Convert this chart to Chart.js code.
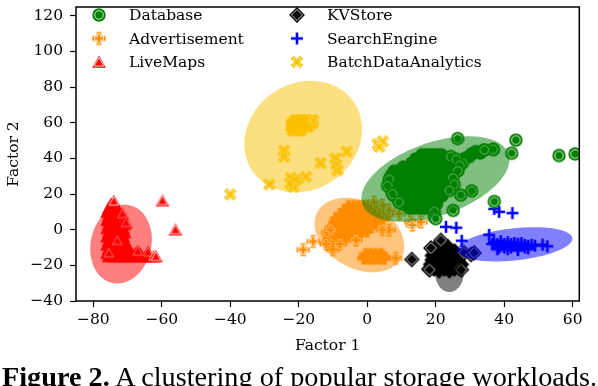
<!DOCTYPE html>
<html>
<head>
<meta charset="utf-8">
<script src="https://cdn.jsdelivr.net/npm/chart.js@4.4.1/dist/chart.umd.min.js"></script>
<style>
  html, body { margin: 0; padding: 0; background: #fff; }
  #wrap { position: relative; width: 598px; height: 386px; overflow: hidden; }
  #caption { position: absolute; left: 2px; top: 364px; font-family: 'Liberation Serif', serif; font-size: 25px; line-height: 25px; white-space: nowrap; color: #000; }
</style>
</head>
<body>
<div id="wrap">
  <canvas id="chart" width="598" height="386"></canvas>
  <div id="caption"><span id="capText"><b>Figure 2.</b> A clustering of popular storage workloads.</span></div>
</div>
<script>
// workload series, [factor1, factor2]
// "core" = heavily overplotted centre of a cluster, "edge" = points whose outline shows
const seriesNames = ['Database', 'Advertisement', 'LiveMaps', 'KVStore', 'SearchEngine', 'BatchDataAnalytics'];

const databaseCore = [
  [16, 42], [17.4, 42], [18.8, 42], [20.2, 42], [21.6, 42],
  [14.2, 39.7], [15.6, 39.7], [17, 39.7], [18.4, 39.7], [19.8, 39.7], [21.2, 39.7], [22.6, 39.7], [24, 39.7],
  [13, 37.4], [14.4, 37.4], [15.8, 37.4], [17.2, 37.4], [18.6, 37.4], [20, 37.4], [21.4, 37.4], [22.8, 37.4], [24.2, 37.4], [25.6, 37.4],
  [10.5, 35.1], [11.9, 35.1], [13.3, 35.1], [14.7, 35.1], [16.1, 35.1], [17.5, 35.1], [18.9, 35.1], [20.3, 35.1], [21.7, 35.1], [23.1, 35.1], [24.5, 35.1], [25.9, 35.1],
  [7.8, 32.8], [9.2, 32.8], [10.6, 32.8], [12, 32.8], [13.4, 32.8], [14.8, 32.8], [16.2, 32.8], [17.6, 32.8], [19, 32.8], [20.4, 32.8], [21.8, 32.8], [23.2, 32.8], [24.6, 32.8],
  [7, 30.5], [8.4, 30.5], [9.8, 30.5], [11.2, 30.5], [12.6, 30.5], [14, 30.5], [15.4, 30.5], [16.8, 30.5], [18.2, 30.5], [19.6, 30.5], [21, 30.5], [22.4, 30.5], [23.8, 30.5],
  [6.6, 28.2], [8, 28.2], [9.4, 28.2], [10.8, 28.2], [12.2, 28.2], [13.6, 28.2], [15, 28.2], [16.4, 28.2], [17.8, 28.2], [19.2, 28.2], [20.6, 28.2], [22, 28.2], [23.4, 28.2],
  [6.5, 25.9], [7.9, 25.9], [9.3, 25.9], [10.7, 25.9], [12.1, 25.9], [13.5, 25.9], [14.9, 25.9], [16.3, 25.9], [17.7, 25.9], [19.1, 25.9], [20.5, 25.9], [21.9, 25.9], [23.3, 25.9],
  [6.8, 23.6], [8.2, 23.6], [9.6, 23.6], [11, 23.6], [12.4, 23.6], [13.8, 23.6], [15.2, 23.6], [16.6, 23.6], [18, 23.6], [19.4, 23.6], [20.8, 23.6], [22.2, 23.6],
  [7.2, 21.3], [8.6, 21.3], [10, 21.3], [11.4, 21.3], [12.8, 21.3], [14.2, 21.3], [15.6, 21.3], [17, 21.3], [18.4, 21.3], [19.8, 21.3], [21.2, 21.3],
  [7.8, 19], [9.2, 19], [10.6, 19], [12, 19], [13.4, 19], [14.8, 19], [16.2, 19], [17.6, 19], [19, 19], [20.4, 19], [21.8, 19],
  [9.2, 16.7], [10.6, 16.7], [12, 16.7], [13.4, 16.7], [14.8, 16.7], [16.2, 16.7], [17.6, 16.7], [19, 16.7], [20.4, 16.7],
  [10.4, 14.4], [11.8, 14.4], [13.2, 14.4], [14.6, 14.4], [16, 14.4], [17.4, 14.4], [18.8, 14.4], [20.2, 14.4],
  [12.4, 12.1], [13.8, 12.1], [15.2, 12.1], [16.6, 12.1], [18, 12.1], [19.4, 12.1],
  [36.8, 45], [34.2, 44.7], [31.7, 43.8], [33, 43], [30.5, 42.5], [29.8, 41], [28.5, 40]
];
const databaseEdge = [
  [27.8, 37.4], [24.4, 41], [26, 39.5], [27, 36], [26.5, 33], [25, 29], [25.4, 25.4], [24, 22], [30.5, 21.8],
  [27.3, 19.4], [25.1, 10.8], [19.6, 10.3], [19.6, 7.1], [20, 6.2], [6.4, 28.2], [5.9, 24.6],
  [7.4, 20], [9.3, 15.4], [26.4, 51.1], [43.4, 50.2], [42.2, 42.9], [56, 41.6], [60.7, 42.5], [37.1, 15.8],
  [36.8, 45], [34.2, 44.7]
];

const advertisementCore = [
  [-5.5, 13], [-4, 13], [-2.5, 13], [-1, 13], [0.5, 13], [2, 13],
  [-6.5, 10.7], [-5, 10.7], [-3.5, 10.7], [-2, 10.7], [-0.5, 10.7], [1, 10.7], [2.5, 10.7], [4, 10.7],
  [-8, 8.4], [-6.5, 8.4], [-5, 8.4], [-3.5, 8.4], [-2, 8.4], [-0.5, 8.4], [1, 8.4], [2.5, 8.4], [4, 8.4], [5.5, 8.4],
  [-9, 6.1], [-7.5, 6.1], [-6, 6.1], [-4.5, 6.1], [-3, 6.1], [-1.5, 6.1], [0, 6.1], [1.5, 6.1], [3, 6.1], [4.5, 6.1],
  [-9.5, 3.8], [-8, 3.8], [-6.5, 3.8], [-5, 3.8], [-3.5, 3.8], [-2, 3.8], [-0.5, 3.8], [1, 3.8], [2.5, 3.8],
  [-10, 1.5], [-8.5, 1.5], [-7, 1.5], [-5.5, 1.5], [-4, 1.5], [-2.5, 1.5], [-1, 1.5], [0.5, 1.5],
  [-10.5, -0.8], [-9, -0.8], [-7.5, -0.8], [-6, -0.8], [-4.5, -0.8], [-3, -0.8], [-1.5, -0.8], [0, -0.8],
  [-11, -3.1], [-9.5, -3.1], [-8, -3.1], [-6.5, -3.1], [-5, -3.1], [-3.5, -3.1],
  [-11, -5.4], [-9.5, -5.4], [-8, -5.4], [-6.5, -5.4],
  [-0.5, -14], [1, -14], [2.5, -14], [4, -14], [0, -15], [1.5, -15], [3, -15], [4.5, -15],
  [-1, -16], [0.5, -16], [2, -16], [3.5, -16], [5, -16]
];
const advertisementEdge = [
  [-18.7, -11.2], [-15.8, -6.6], [-10.1, -11.2], [-11.3, -6.6], [-11.6, -1.5], [-3.3, -5.7],
  [-10.7, 0], [-12, -8], [-8, -8], [3.5, 12.6], [5.5, 9], [2, 15.4], [4.5, 13.6], [6.4, 10.8],
  [9.3, 9], [12.7, 4.4], [15.7, 4.4], [13.2, 2.6], [6.4, -0.2], [4.4, 0], [8.3, -16]
];

const liveMapsCore = [
  [-74.8, 14.5], [-73.8, 14.5],
  [-75.5, 12.2], [-74.3, 12.2], [-73.1, 12.2],
  [-76, 9.9], [-74.8, 9.9], [-73.6, 9.9], [-72.4, 9.9],
  [-75.6, 7.6], [-74.4, 7.6], [-73.2, 7.6], [-72, 7.6],
  [-76, 5.3], [-74.8, 5.3], [-73.6, 5.3], [-72.4, 5.3], [-71.2, 5.3],
  [-75.6, 3], [-74.4, 3], [-73.2, 3], [-72, 3], [-70.8, 3],
  [-76, 0.7], [-74.8, 0.7], [-73.6, 0.7], [-72.4, 0.7], [-71.2, 0.7],
  [-75.6, -1.6], [-74.4, -1.6], [-73.2, -1.6], [-72, -1.6], [-70.8, -1.6],
  [-76, -3.9], [-74.8, -3.9], [-73.6, -3.9], [-72.4, -3.9], [-71.2, -3.9],
  [-75.6, -6.2], [-74.4, -6.2], [-73.2, -6.2], [-72, -6.2], [-70.8, -6.2],
  [-76, -8.5], [-74.8, -8.5], [-73.6, -8.5], [-72.4, -8.5], [-71.2, -8.5],
  [-75.6, -10.8], [-74.4, -10.8], [-73.2, -10.8], [-72, -10.8], [-70.8, -10.8], [-69.6, -10.8],
  [-76, -13.1], [-74.8, -13.1], [-73.6, -13.1], [-72.4, -13.1], [-71.2, -13.1], [-70, -13.1],
  [-68.8, -13.1], [-67.6, -13.1], [-66.4, -13.1],
  [-75.6, -15], [-74.4, -15], [-73.2, -15], [-72, -15], [-70.8, -15], [-69.6, -15], [-68.4, -15],
  [-67.2, -15], [-66, -15], [-64.8, -15], [-63.6, -15]
];
const liveMapsEdge = [
  [-67, -12], [-64, -12.5], [-62.4, -15], [-61.7, -15], [-74, 16], [-70.5, 4], [-75.5, -13],
  [-73, -6], [-71.5, 9], [-59.8, 16.3], [-56, 0]
];

const kvStoreCore = [
  [21.5, -7],
  [20.5, -9.5], [22, -9.5], [23.5, -9.5],
  [19.5, -12], [21, -12], [22.5, -12], [24, -12], [25.5, -12],
  [19, -14.5], [20.5, -14.5], [22, -14.5], [23.5, -14.5], [25, -14.5], [26.5, -14.5],
  [19, -17], [20.5, -17], [22, -17], [23.5, -17], [25, -17], [26.5, -17],
  [18.5, -19.5], [20, -19.5], [21.5, -19.5], [23, -19.5], [25, -19.5], [26.5, -19.5], [27.5, -19.5],
  [19.5, -22], [21, -22], [22.5, -22], [24, -22], [25.5, -22], [21, -23], [24, -23]
];
const kvStoreEdge = [
  [21.5, -6], [18.6, -10.3], [18, -22], [27, -22], [18.2, -22.5], [27.5, -22.5], [13, -16.7],
  [28.3, -13], [30.3, -13.9], [31.2, -13]
];

const searchEngineCore = [];
const searchEngineEdge = [
  [23, 1.6], [26, 1.1], [27.6, -6.2], [37.1, 11.7], [38.5, 10], [42.4, 9.3], [35.6, -2.9],
  [37, -7], [38, -8], [39, -9], [40, -8], [41, -9], [42, -8], [43, -9], [44, -8], [45, -9],
  [46, -8.5], [47, -9], [48, -8.5], [38.5, -10], [40, -10], [42, -10], [44, -10.5], [46, -10],
  [39, -6.5], [51.2, -8.4], [52.6, -9.3], [36.5, -8], [49, -9],
  [41, -7], [43, -7.5], [45, -7.5], [38, -11], [41, -11], [44, -11.5], [47, -10.5]
];

const batchDataAnalyticsCore = [
  [-21, 61.5], [-19.8, 61.5], [-18.6, 61.5], [-17.4, 61.5], [-16.2, 61.5],
  [-22, 59.5], [-20.8, 59.5], [-19.6, 59.5], [-18.4, 59.5], [-17.2, 59.5], [-16, 59.5],
  [-22.2, 57.5], [-21, 57.5], [-19.8, 57.5], [-18.6, 57.5], [-17.4, 57.5],
  [-21.8, 55.5], [-20.6, 55.5], [-19.4, 55.5]
];
const batchDataAnalyticsEdge = [
  [-15.8, 61.2], [-40, 19.8], [-28.6, 25.4], [-24.3, 44.3], [-24.3, 41.1], [-22.3, 29.1],
  [-21.8, 26.4], [-21.6, 24], [-20.8, 28], [-22.5, 26], [-17.9, 29.7], [-13.7, 37.4],
  [-9.3, 40.1], [-9.1, 36.4], [-8.7, 33.3], [-6, 43.8], [3, 48], [4.5, 49.5], [3.5, 46.5]
];

// fitted cluster ellipses: centre x, centre y, half-extent x, half-extent y, correlation
const databaseFit = [19.9, 28.4, 21.6, 24.0, 0.45];
const advertisementFit = [-2.3, -3.0, 13.1, 20.9, -0.3];
const liveMapsFit = [-71.9, -8.1, 9.0, 22.1, 0.12];
const kvStoreFit = [24, -24, 4.2, 11, 0];
const searchEngineFit = [43.1, -8.2, 16.8, 9.6, 0.33];
const batchDataAnalyticsFit = [-18.7, 52.2, 17.2, 31.3, 0.13];

const xTicks = [-80, -60, -40, -20, 0, 20, 40, 60];
const yTicks = [-40, -20, 0, 20, 40, 60, 80, 100, 120];

const FONT = "'DejaVu Serif', serif";
const colors = ['#008000', '#ff8c00', '#ff0000', '#000000', '#0000ff', '#fac000'];
const shapes = ['circle', 'fatPlus', 'triangle', 'diamond', 'plus', 'fatX'];

function shapePath(g, kind, k) {
  g.beginPath();
  if (kind === 'circle') {
    g.arc(0, 0, 6.7 * k, 0, Math.PI * 2);
  } else if (kind === 'triangle') {
    g.moveTo(0, -6.6 * k); g.lineTo(6.8 * k, 5.8 * k); g.lineTo(-6.8 * k, 5.8 * k);
  } else if (kind === 'diamond') {
    const r = 7.9 * k;
    g.moveTo(0, -r); g.lineTo(r, 0); g.lineTo(0, r); g.lineTo(-r, 0);
  } else {
    const r = 6.6 * k, w = 2.4 * k;
    const pts = [[-w, -r], [w, -r], [w, -w], [r, -w], [r, w], [w, w], [w, r], [-w, r], [-w, w], [-r, w], [-r, -w], [-w, -w]];
    const a = kind === 'fatX' ? Math.PI / 4 : 0;
    pts.forEach(([px, py], i) => {
      const qx = px * Math.cos(a) - py * Math.sin(a);
      const qy = px * Math.sin(a) + py * Math.cos(a);
      i ? g.lineTo(qx, qy) : g.moveTo(qx, qy);
    });
  }
  g.closePath();
}

// ringed = matplotlib-like marker with thin white inner outline
function markerCanvas(kind, color, ringed) {
  const s = 18;
  const c = document.createElement('canvas');
  c.width = s; c.height = s;
  const g = c.getContext('2d');
  g.translate(s / 2, s / 2);
  if (kind === 'plus') {
    g.strokeStyle = color; g.lineWidth = 2.6;
    g.beginPath();
    g.moveTo(-6, 0); g.lineTo(6, 0); g.moveTo(0, -6); g.lineTo(0, 6);
    g.stroke();
    return c;
  }
  shapePath(g, kind, 1);
  g.fillStyle = color; g.fill();
  if (ringed) {
    shapePath(g, kind, kind === 'circle' ? 0.64 : 0.7);
    g.strokeStyle = '#fff'; g.lineWidth = 0.8; g.stroke();
  }
  return c;
}

const cores = [databaseCore, advertisementCore, liveMapsCore, kvStoreCore, searchEngineCore, batchDataAnalyticsCore];
const edges = [databaseEdge, advertisementEdge, liveMapsEdge, kvStoreEdge, searchEngineEdge, batchDataAnalyticsEdge];
const fits = [databaseFit, advertisementFit, liveMapsFit, kvStoreFit, searchEngineFit, batchDataAnalyticsFit];
const ellipseOrder = [1, 2, 5, 3, 4, 0];
const legendMarkers = shapes.map((s, i) => markerCanvas(s, colors[i], true));

const datasets = seriesNames.map((name, i) => {
  const solid = markerCanvas(shapes[i], colors[i], false);
  const nCore = cores[i].length;
  return {
    label: name,
    data: cores[i].concat(edges[i]).map(([x, y]) => ({ x, y })),
    pointStyle: ctx => (ctx.dataIndex < nCore ? solid : legendMarkers[i]),
    pointRadius: 6,
    pointHoverRadius: 6
  };
});

const fitEllipses = {
  id: 'fitEllipses',
  afterDatasetsDraw(chart) {
    const { ctx, chartArea, scales: { x, y } } = chart;
    ctx.save();
    ctx.beginPath();
    ctx.rect(chartArea.left, chartArea.top, chartArea.width, chartArea.height);
    ctx.clip();
    ellipseOrder.forEach(i => {
      const [cx, cy, sx, sy, rho] = fits[i];
      const q = Math.sqrt(1 - rho * rho);
      ctx.beginPath();
      for (let k = 0; k <= 160; k++) {
        const t = k / 160 * Math.PI * 2;
        const px = x.getPixelForValue(cx + sx * Math.cos(t));
        const py = y.getPixelForValue(cy + sy * (rho * Math.cos(t) + q * Math.sin(t)));
        k ? ctx.lineTo(px, py) : ctx.moveTo(px, py);
      }
      ctx.closePath();
      ctx.globalAlpha = 0.5;
      ctx.fillStyle = colors[i];
      ctx.fill();
    });
    ctx.restore();
  }
};

const frameAndLegend = {
  id: 'frameAndLegend',
  afterDraw(chart) {
    const { ctx, chartArea } = chart;
    ctx.save();
    ctx.strokeStyle = '#000';
    ctx.lineWidth = 1.5;
    ctx.strokeRect(chartArea.left, chartArea.top, chartArea.width, chartArea.height);

    ctx.font = `15.5px ${FONT}`;
    ctx.textBaseline = 'middle';
    ctx.fillStyle = '#000';
    chart.data.datasets.forEach((ds, i) => {
      const col = Math.floor(i / 3), row = i % 3;
      const mx = 99 + col * 198, my = 15 + row * 23.5;
      const img = legendMarkers[i];
      ctx.drawImage(img, mx - img.width / 2, my - img.height / 2);
      ctx.fillText(ds.label, mx + 30, my + 1);
    });
    ctx.restore();
  }
};

const tickLabel = v => (v < 0 ? '\u2212' + Math.abs(v) : String(v));
const noEdgePadding = s => { s.paddingTop = 0; s.paddingBottom = 0; s.paddingLeft = 0; s.paddingRight = 0; };

const chart = new Chart(document.getElementById('chart').getContext('2d'), {
  type: 'scatter',
  data: { datasets },
  options: {
    responsive: false,
    animation: false,
    layout: { padding: { top: 1, right: 18.7, left: 0, bottom: 0 } },
    plugins: { legend: { display: false }, tooltip: { enabled: false } },
    scales: {
      x: {
        type: 'linear',
        min: -85.05,
        max: 61.93,
        afterBuildTicks: axis => { axis.ticks = xTicks.map(v => ({ value: v })); },
        afterFit: s => { s.height = 85; noEdgePadding(s); },
        border: { display: false },
        grid: { drawOnChartArea: false, drawTicks: true, tickLength: 6, tickColor: '#000', tickWidth: 1.2 },
        ticks: { color: '#000', font: { family: FONT, size: 15.5 }, padding: 4, maxRotation: 0, callback: tickLabel },
        title: { display: true, text: 'Factor 1', color: '#000', font: { family: FONT, size: 15.5 }, padding: { top: 0, bottom: 31 } }
      },
      y: {
        type: 'linear',
        min: -40,
        max: 124.9,
        afterBuildTicks: axis => { axis.ticks = yTicks.map(v => ({ value: v })); },
        afterFit: s => { s.width = 76; noEdgePadding(s); },
        border: { display: false },
        grid: { drawOnChartArea: false, drawTicks: true, tickLength: 6, tickColor: '#000', tickWidth: 1.2 },
        ticks: { color: '#000', font: { family: FONT, size: 15.5 }, padding: 7, callback: tickLabel },
        title: { display: true, text: 'Factor 2', color: '#000', font: { family: FONT, size: 15.5 }, padding: { top: 4.5, bottom: 0 } }
      }
    }
  },
  plugins: [fitEllipses, frameAndLegend]
});

// stretch caption to span the figure width
const cap = document.getElementById('capText');
const capBox = document.getElementById('caption');
const w = cap.getBoundingClientRect().width;
capBox.style.fontSize = (25 * 595 / w) + 'px';
</script>
</body>
</html>
